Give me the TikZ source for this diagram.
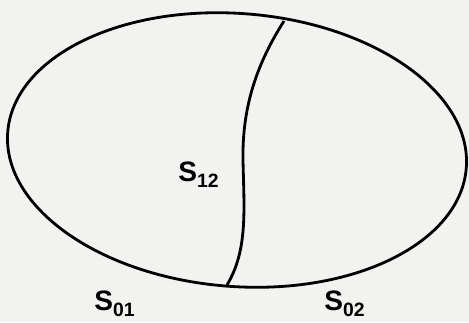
\documentclass[tikz,border=0pt]{standalone}
\usepackage{fontspec}
\setmainfont{Liberation Sans}
\definecolor{paper}{RGB}{242,242,240}
\newcommand{\surf}[1]{S\raisebox{-3.5pt}{\fontsize{11}{12}\selectfont #1}}
\begin{document}
\begin{tikzpicture}[
		x=0.02cm, y=-0.02cm,
		line width=1.6pt,
		every node/.style={font=\fontsize{16}{18}\selectfont\bfseries, inner sep=0pt, anchor=base west}
	]
		\fill[paper] (0,0) rectangle (469,322);
		\useasboundingbox (0,0) rectangle (469,322);

		\draw[rotate around={-4.5:(237,150)}] (237,150) ellipse (230 and 136.5);

		\coordinate (top) at (284,21);
		\coordinate (mid) at (243,160);
		\coordinate (bot) at (227,285);
		\draw (top) .. controls (258,62) and (242,105) .. (mid)
			.. controls (244,210) and (248,250) .. (bot);

		\node (s12) at (177,181) {\surf{12}};
		\node (s01) at (93,310) {\surf{01}};
		\node (s02) at (323,310) {\surf{02}};
\end{tikzpicture}
\end{document}
